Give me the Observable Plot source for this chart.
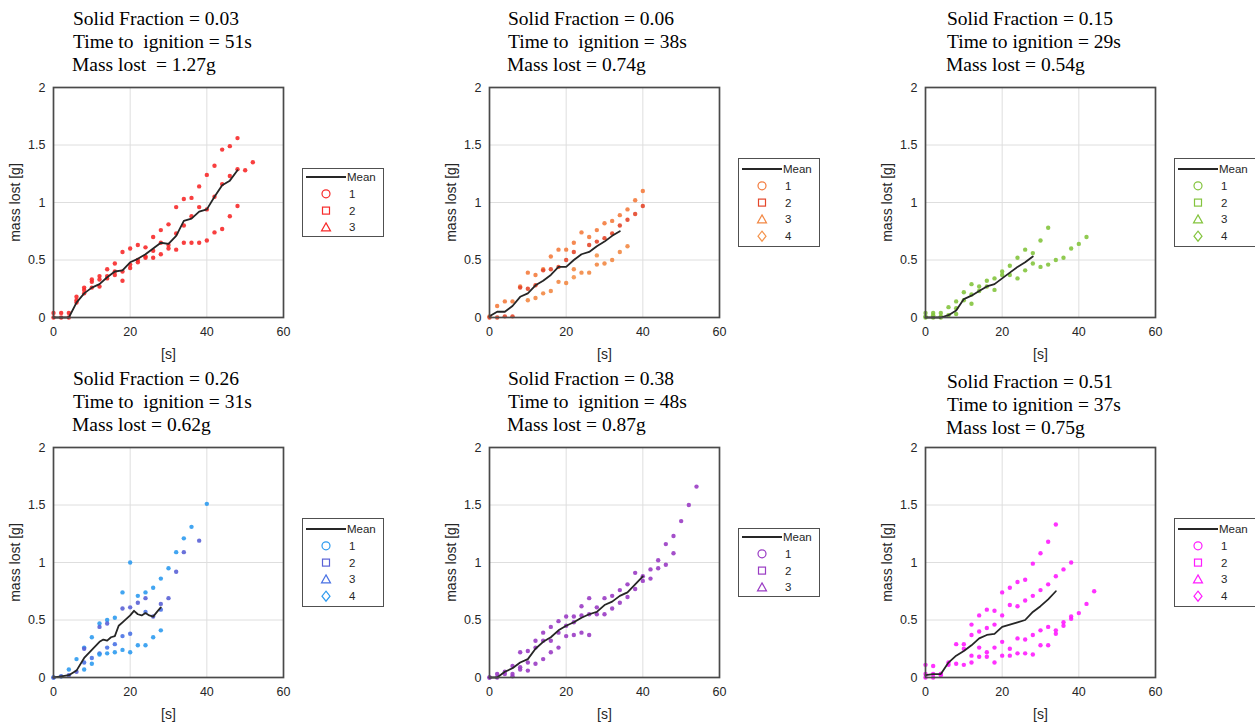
<!DOCTYPE html>
<html><head><meta charset="utf-8">
<script src="https://cdn.jsdelivr.net/npm/d3@7"></script>
<script src="https://cdn.jsdelivr.net/npm/@observablehq/plot@0.6"></script>
<style>
html,body{margin:0;padding:0;background:#fff;}
#wrap{position:relative;width:1255px;height:722px;overflow:hidden;background:#fff;}
.ttl{position:absolute;font-family:"Liberation Serif","Times New Roman",serif;font-size:19.5px;line-height:20px;white-space:pre;color:#000;}
.lg{position:absolute;border:1.6px solid #505050;background:#fff;box-sizing:border-box;overflow:hidden;}
.pl{position:absolute;}
</style></head><body><div id="wrap"></div>
<script>
// ---------- axis ticks & labels ----------
const timeTicks = [0, 20, 40, 60];
const massTicks = [0, 0.5, 1, 1.5, 2];
const timeGrid = [20, 40];
const massGrid = [0.5, 1, 1.5];
const xLabel = "[s]";
const yLabel = "mass lost [g]";

// ---------- panel headers ----------
const solidFractions = ["0.03", "0.06", "0.15", "0.26", "0.38", "0.51"];
const ignitionTimes = ["51s", "38s", "29s", "31s", "48s", "37s"];
const massLost = ["1.27g", "0.74g", "0.54g", "0.62g", "0.87g", "0.75g"];
const runLabels = ["1", "2", "3", "4"];

// ---------- colours ----------
const colorsSF03 = ["#f72a2a", "#f72a2a", "#f72a2a"];
const colorsSF06 = ["#f47c3e", "#e4472b", "#f28844", "#f5944c"];
const colorsSF15 = ["#84c43e", "#84c43e", "#84c43e", "#84c43e"];
const colorsSF26 = ["#2e9bef", "#5a62d6", "#4a72e4", "#2e9bef"];
const colorsSF38 = ["#9a3cc4", "#9a3cc4", "#9a3cc4"];
const colorsSF51 = ["#ff1cff", "#ff1cff", "#ff1cff", "#ff1cff"];

// ---------- data: [time s, mass lost g] ----------
const sf03_run1 = [[0,0.04],[2,0.04],[4,0.04],[6,0.18],[8,0.26],[10,0.33],[12,0.36],[14,0.42],[16,0.47],[18,0.57],[20,0.60],[22,0.63],[24,0.61],[26,0.70],[28,0.76],[30,0.81],[32,0.96],[34,1.03],[36,1.04],[38,1.14],[40,1.24],[42,1.32],[44,1.46],[46,1.49],[48,1.56]];
const sf03_run2 = [[0,0],[2,0],[4,0],[6,0.15],[8,0.24],[10,0.31],[12,0.27],[14,0.34],[16,0.37],[18,0.32],[20,0.43],[22,0.48],[24,0.52],[26,0.52],[28,0.55],[30,0.60],[32,0.59],[34,0.65],[36,0.65],[38,0.65],[40,0.67],[42,0.74],[44,0.77],[46,0.88],[48,0.97]];
const sf03_run3 = [[6,0.13],[8,0.21],[10,0.26],[12,0.33],[14,0.36],[16,0.40],[18,0.40],[20,0.46],[22,0.50],[24,0.53],[26,0.58],[28,0.65],[30,0.63],[32,0.73],[34,0.80],[36,0.88],[38,0.96],[40,0.94],[42,1.05],[44,1.16],[46,1.23],[48,1.29],[50,1.28],[52,1.35]];
const sf03_mean = [[0,0],[2,0],[4,0],[6,0.13],[8,0.21],[10,0.26],[12,0.29],[14,0.35],[16,0.40],[18,0.41],[20,0.48],[22,0.51],[24,0.55],[26,0.60],[28,0.65],[30,0.64],[32,0.71],[34,0.84],[36,0.86],[38,0.92],[40,0.94],[42,1.05],[44,1.15],[46,1.19],[48,1.28]];

const sf06_run1 = [[0,0.01],[2,0.10],[4,0.14],[6,0.14],[8,0.27],[10,0.39],[12,0.37],[14,0.42],[16,0.53],[18,0.59],[20,0.59],[22,0.65],[24,0.74],[26,0.70],[28,0.76],[30,0.82],[32,0.84],[34,0.89],[36,0.94],[38,1.02],[40,1.10]];
const sf06_run2 = [[0,0],[2,0],[4,0.01],[6,0.01],[8,0.26],[10,0.25],[12,0.28],[14,0.41],[16,0.42],[18,0.44],[20,0.50],[22,0.57],[26,0.63],[28,0.66],[30,0.69],[32,0.73],[34,0.80],[36,0.85],[38,0.90],[40,0.97]];
const sf06_run3 = [[10,0.15],[12,0.17],[14,0.21],[16,0.23],[18,0.31],[20,0.30],[22,0.42],[24,0.39],[26,0.39],[28,0.46],[30,0.47],[32,0.50],[34,0.57],[36,0.62]];
const sf06_run4 = [[22,0.35],[28,0.54]];
const sf06_mean = [[0,0.01],[2,0.05],[4,0.05],[6,0.10],[8,0.18],[10,0.21],[12,0.28],[14,0.32],[16,0.37],[18,0.44],[20,0.44],[22,0.50],[24,0.55],[26,0.57],[28,0.62],[30,0.66],[32,0.71],[34,0.75]];

const sf15_run1 = [[0,0.04],[2,0.04],[4,0.04],[6,0.09],[8,0.14],[10,0.22],[12,0.29],[14,0.27],[16,0.32],[18,0.34],[20,0.40],[22,0.45],[24,0.52],[26,0.59],[28,0.56],[30,0.67],[32,0.78]];
const sf15_run2 = [[0,0],[2,0],[4,0],[6,0.02],[8,0.08],[10,0.15],[12,0.20],[14,0.23],[16,0.27],[18,0.24],[20,0.37],[22,0.37],[24,0.34],[26,0.41],[28,0.47],[30,0.44],[32,0.46],[34,0.50],[36,0.52],[38,0.60],[40,0.64],[42,0.70]];
const sf15_run3 = [[0,0.01],[2,0.02],[4,0.01],[8,0.03]];
const sf15_run4 = [[12,0.12]];
const sf15_mean = [[0,0],[2,0],[4,0],[6,0.02],[8,0.06],[10,0.16],[12,0.19],[14,0.23],[16,0.27],[18,0.29],[20,0.34],[22,0.39],[24,0.44],[26,0.48],[28,0.53]];

const sf26_run1 = [[0,0],[2,0.01],[4,0.07],[6,0.16],[8,0.26],[10,0.35],[12,0.47],[14,0.50],[16,0.52],[18,0.74],[20,1.00],[22,0.71],[24,0.74],[26,0.78],[28,0.86],[30,0.95],[32,1.09],[34,1.21],[36,1.31],[40,1.51]];
const sf26_run2 = [[0,0],[2,0.01],[4,0.02],[6,0.05],[8,0.25],[12,0.44],[14,0.47],[18,0.60],[20,0.61],[22,0.65],[24,0.69],[26,0.53],[28,0.64],[30,0.69],[32,0.92],[34,1.09],[38,1.19]];
const sf26_run3 = [[8,0.13],[10,0.17],[12,0.21],[14,0.26],[16,0.29],[18,0.36],[20,0.38],[24,0.57],[28,0.59]];
const sf26_run4 = [[8,0.07],[10,0.12],[12,0.20],[14,0.21],[16,0.22],[18,0.24],[20,0.22],[22,0.28],[24,0.28],[26,0.35],[28,0.41]];
const sf26_mean = [[0,0],[2,0.01],[4,0.02],[6,0.06],[8,0.17],[10,0.24],[12,0.31],[13,0.33],[14,0.32],[15,0.35],[16,0.36],[17,0.45],[18,0.48],[20,0.54],[21,0.58],[22,0.55],[23,0.54],[24,0.56],[25,0.54],[26,0.53],[27,0.57],[28,0.61]];

const sf38_run1 = [[0,0],[2,0.03],[4,0.05],[6,0.10],[8,0.22],[10,0.23],[12,0.32],[14,0.39],[16,0.44],[18,0.49],[20,0.53],[22,0.53],[24,0.62],[26,0.69],[28,0.61],[30,0.69],[32,0.71],[34,0.76],[36,0.81],[38,0.91],[40,0.88],[42,0.94],[44,1.02],[46,1.16],[48,1.23],[50,1.36],[52,1.50],[54,1.66]];
const sf38_run2 = [[0,0],[2,0],[4,0.03],[6,0.03],[8,0.09],[10,0.13],[12,0.26],[14,0.32],[16,0.32],[18,0.39],[20,0.45],[22,0.48],[24,0.54],[26,0.55],[28,0.55],[30,0.55],[32,0.60],[34,0.65],[36,0.70],[38,0.77],[40,0.84],[42,0.86],[44,0.95],[46,0.98],[48,1.08]];
const sf38_run3 = [[6,0.01],[8,0.07],[10,0.06],[12,0.12],[14,0.16],[16,0.22],[18,0.26],[20,0.36],[22,0.37],[24,0.39],[26,0.37]];
const sf38_mean = [[0,0],[2,0],[4,0.05],[6,0.08],[8,0.13],[10,0.16],[12,0.25],[14,0.31],[16,0.35],[18,0.41],[20,0.45],[22,0.48],[24,0.52],[26,0.55],[28,0.57],[30,0.63],[32,0.66],[34,0.71],[36,0.74],[38,0.81],[40,0.88]];

const sf51_run1 = [[0,0.11],[2,0.10],[4,0.03],[6,0.13],[8,0.29],[10,0.29],[12,0.46],[14,0.54],[16,0.59],[18,0.58],[20,0.74],[22,0.78],[24,0.83],[26,0.85],[28,0.99],[30,1.08],[32,1.18],[34,1.33]];
const sf51_run2 = [[0,0.03],[2,0.03],[4,0.02],[6,0.11],[8,0.12],[10,0.25],[12,0.37],[14,0.40],[16,0.43],[18,0.46],[20,0.54],[22,0.63],[24,0.62],[26,0.67],[28,0.71],[30,0.76],[32,0.81],[34,0.88],[36,0.94],[38,1.00]];
const sf51_run3 = [[0,0],[2,0],[4,0.03],[10,0.11],[12,0.19],[14,0.26],[16,0.22],[18,0.26],[20,0.31],[22,0.25],[24,0.34],[26,0.33],[28,0.37],[30,0.41],[32,0.44],[34,0.41],[36,0.48],[38,0.53],[40,0.56],[42,0.64],[44,0.75]];
const sf51_run4 = [[12,0.13],[14,0.18],[16,0.18],[18,0.13],[20,0.19],[22,0.19],[24,0.21],[26,0.21],[28,0.20],[30,0.28],[32,0.28],[34,0.38],[36,0.45],[38,0.51]];
const sf51_mean = [[0,0.02],[2,0.03],[4,0.03],[6,0.13],[8,0.19],[10,0.23],[12,0.28],[14,0.34],[16,0.37],[18,0.38],[20,0.44],[22,0.46],[24,0.48],[26,0.50],[28,0.57],[30,0.62],[32,0.68],[34,0.75]];

// ---------- layout ----------
const FRAME = 230, ML = 53, MR = 10, MT = 10, MB = 45;
const frameLefts = [53, 489, 925];
const frameTops = [87, 447];
const titleDx = [20, 19, 22];

const panels = [
  {runs:[sf03_run1,sf03_run2,sf03_run3], mean:sf03_mean, colors:colorsSF03, gap:"  ", massGap:"  "},
  {runs:[sf06_run1,sf06_run2,sf06_run3,sf06_run4], mean:sf06_mean, colors:colorsSF06, gap:"  "},
  {runs:[sf15_run1,sf15_run2,sf15_run3,sf15_run4], mean:sf15_mean, colors:colorsSF15, gap:" "},
  {runs:[sf26_run1,sf26_run2,sf26_run3,sf26_run4], mean:sf26_mean, colors:colorsSF26, gap:"  "},
  {runs:[sf38_run1,sf38_run2,sf38_run3], mean:sf38_mean, colors:colorsSF38, gap:"  "},
  {runs:[sf51_run1,sf51_run2,sf51_run3,sf51_run4], mean:sf51_mean, colors:colorsSF51, gap:" ", dy:3}
];

const wrap = document.getElementById("wrap");
const toObj = arr => arr.map(([t, m]) => ({t, m}));

function symbolEl(i, cx, cy, color) {
  const s = `fill="none" stroke="${color}" stroke-width="1.2"`;
  if (i === 0) return `<circle cx="${cx}" cy="${cy}" r="4" ${s}/>`;
  if (i === 1) return `<rect x="${cx-3.5}" y="${cy-3.5}" width="7" height="7" ${s}/>`;
  if (i === 2) return `<path d="M${cx},${cy-4.5}L${cx+4.5},${cy+3.5}L${cx-4.5},${cy+3.5}Z" ${s}/>`;
  return `<path d="M${cx},${cy-5}L${cx+4},${cy}L${cx},${cy+5}L${cx-4},${cy}Z" ${s}/>`;
}

panels.forEach((p, k) => {
  const col = k % 3, row = Math.floor(k / 3);
  const fl = frameLefts[col], ft = frameTops[row];
  const marks = [
    Plot.gridX(timeGrid, {stroke: "#dedede", strokeOpacity: 1}),
    Plot.gridY(massGrid, {stroke: "#dedede", strokeOpacity: 1}),
    ...p.runs.map((r, i) => Plot.dot(toObj(r), {x: "t", y: "m", r: 2.2, fill: p.colors[i], fillOpacity: 0.9, stroke: null})),
    Plot.line(toObj(p.mean), {x: "t", y: "m", stroke: "#262626", strokeWidth: 1.8}),
    Plot.frame({stroke: "#4a4a4a", strokeWidth: 1.7}),
    Plot.axisX({ticks: timeTicks, tickSize: 0, tickPadding: 10, tickFormat: d => String(d), label: null}),
    Plot.axisY({ticks: massTicks, tickSize: 0, tickPadding: 8, tickFormat: d => String(d), label: null}),
    Plot.axisX({ticks: [], label: xLabel, labelAnchor: "center", labelArrow: "none", labelOffset: 41, fontSize: 14}),
    Plot.axisY({ticks: [], label: yLabel, labelAnchor: "center", labelArrow: "none", labelOffset: 43, fontSize: 14})
  ];
  const chart = Plot.plot({
    width: ML + FRAME + MR, height: MT + FRAME + MB,
    marginLeft: ML, marginRight: MR, marginTop: MT, marginBottom: MB,
    x: {domain: [0, 60]}, y: {domain: [0, 2]},
    style: {fontFamily: "'Liberation Sans', Arial, sans-serif", fontSize: "12.5px", color: "#262626", background: "transparent", overflow: "visible"},
    marks
  });
  chart.classList.add("pl");
  chart.style.left = (fl - ML) + "px";
  chart.style.top = (ft - MT) + "px";
  wrap.appendChild(chart);

  // titles
  const lines = [
    "Solid Fraction = " + solidFractions[k],
    "Time to" + p.gap + "ignition = " + ignitionTimes[k],
    "Mass lost" + (p.massGap || " ") + "= " + massLost[k]
  ];
  const dy = p.dy || 0;
  lines.forEach((txt, j) => {
    const d = document.createElement("div");
    d.className = "ttl";
    d.textContent = txt;
    d.style.left = (fl + titleDx[col] - (j === 2 ? 1 : 0)) + "px";
    d.style.top = (ft - 78 + j * 23 + dy) + "px";
    wrap.appendChild(d);
  });

  // legend
  const n = p.runs.length;
  const h = n === 3 ? 69 : 89;
  const top0 = n === 3 ? 10 : 12;
  const lg = document.createElement("div");
  lg.className = "lg";
  lg.style.left = (fl + FRAME + 19) + "px";
  lg.style.top = (ft + FRAME / 2 - h / 2) + "px";
  lg.style.width = "82px";
  lg.style.height = h + "px";
  let svg = `<svg width="82" height="${h}" style="position:absolute;left:-1.6px;top:-1.6px" font-family="'Liberation Sans', Arial, sans-serif" font-size="11.5">`;
  svg += `<line x1="5" x2="45" y1="${top0}" y2="${top0}" stroke="#262626" stroke-width="1.8"/>`;
  svg += `<text x="46" y="${top0}" dy="0.35em" fill="#262626">Mean</text>`;
  for (let i = 0; i < n; i++) {
    const y = top0 + (i + 1) * 16.8;
    svg += symbolEl(i, 25, y, p.colors[i]);
    svg += `<text x="48" y="${y}" dy="0.35em" fill="#262626">${runLabels[i]}</text>`;
  }
  svg += `</svg>`;
  lg.innerHTML = svg;
  wrap.appendChild(lg);
});
</script></body></html>
